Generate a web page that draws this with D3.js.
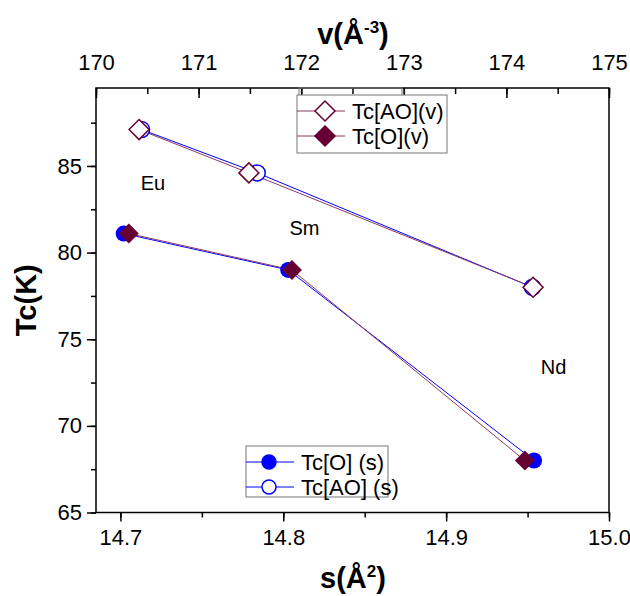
<!DOCTYPE html>
<html>
<head>
<meta charset="utf-8">
<script src="https://cdn.jsdelivr.net/npm/d3@7"></script>
<style>
  body { margin: 0; background: #fff; }
  svg { font-family: "Liberation Sans", Arial, sans-serif; }
</style>
</head>
<body>
<svg id="chart" width="630" height="596"></svg>
<script>
// Tc vs area s (bottom axis) and volume v (top axis)
var elements = ['Eu', 'Sm', 'Nd'];
var sO = [14.702, 14.803, 14.954];
var tcO_s = [81.1, 79.0, 68.0];
var sAO = [14.713, 14.784, 14.953];
var tcAO_s = [87.1, 84.6, 78.0];
var vAO = [170.42, 171.49, 174.26];
var tcAO_v = [87.1, 84.6, 78.0];
var vO = [170.32, 171.91, 174.18];
var tcO_v = [81.1, 79.0, 68.0];
// element label anchor points, in (s, Tc)
var labelS = [14.720, 14.813, 14.966];
var labelTc = [84.0, 81.4, 73.4];

var sTicks = [14.7, 14.8, 14.9, 15.0];
var vTicks = [170, 171, 172, 173, 174, 175];
var tcTicks = [65, 70, 75, 80, 85];

!(function() {
  var blue = '#0000ff', maroon = '#660033', maroonLine = '#8a3a62';

  var svg = d3.select('#chart');
  var pl = 96, pr = 609, pt = 88, pb = 512.5;

  var x = d3.scaleLinear().domain([14.685, 15.0]).range([pl, pr]);
  var xv = d3.scaleLinear().domain([170, 175]).range([pl, pr]);
  var y = d3.scaleLinear().domain([65, 89.5]).range([pb, pt]);

  function zip(a, b) { return a.map(function(d, i) { return [d, b[i]]; }); }

  // frame
  svg.append('rect')
    .attr('x', pl).attr('y', pt)
    .attr('width', pr - pl).attr('height', pb - pt)
    .attr('fill', 'none').attr('stroke', '#000').attr('stroke-width', 1.5);

  function styleAxis(g) {
    g.select('.domain').remove();
    g.attr('font-size', 22).attr('font-family', '"Liberation Sans", Arial, sans-serif');
    g.selectAll('line').attr('stroke', '#000').attr('stroke-width', 1.5);
    g.selectAll('text').attr('fill', '#000');
  }

  // bottom axis
  svg.append('g').attr('transform', 'translate(0,' + pb + ')')
    .call(d3.axisBottom(x).tickValues(d3.range(14.7, 15.01, 0.05)).tickSize(5).tickFormat(''))
    .call(styleAxis);
  svg.append('g').attr('transform', 'translate(0,' + pb + ')')
    .call(d3.axisBottom(x).tickValues(sTicks).tickSize(9).tickPadding(8).tickFormat(d3.format('.1f')))
    .call(styleAxis);

  // left axis
  svg.append('g').attr('transform', 'translate(' + pl + ',0)')
    .call(d3.axisLeft(y).tickValues(d3.range(65, 89, 2.5)).tickSize(5).tickFormat(''))
    .call(styleAxis);
  svg.append('g').attr('transform', 'translate(' + pl + ',0)')
    .call(d3.axisLeft(y).tickValues(tcTicks).tickSize(9).tickPadding(5))
    .call(styleAxis);

  // top axis, ticks pointing inward
  svg.append('g').attr('transform', 'translate(0,' + pt + ')')
    .call(d3.axisTop(xv).tickValues(d3.range(170, 175.01, 0.5)).tickSize(-6).tickFormat(''))
    .call(styleAxis);
  svg.append('g').attr('transform', 'translate(0,' + pt + ')')
    .call(d3.axisTop(xv).tickValues(vTicks).tickSize(-10).tickPadding(18).tickFormat(d3.format('d')))
    .call(styleAxis);

  // axis titles
  var tx = svg.append('text').attr('x', 353).attr('y', 44)
    .attr('text-anchor', 'middle').attr('font-size', 29).attr('font-weight', 'bold');
  tx.append('tspan').text('v(Å');
  tx.append('tspan').attr('font-size', 17).attr('dy', -11).text('-3');
  tx.append('tspan').attr('dy', 11).text(')');

  var bx = svg.append('text').attr('x', 353).attr('y', 588)
    .attr('text-anchor', 'middle').attr('font-size', 29).attr('font-weight', 'bold');
  bx.append('tspan').text('s(Å');
  bx.append('tspan').attr('font-size', 17).attr('dy', -11).text('2');
  bx.append('tspan').attr('dy', 11).text(')');

  svg.append('text')
    .attr('transform', 'translate(36,' + ((pt + pb) / 2) + ') rotate(-90)')
    .attr('text-anchor', 'middle').attr('font-size', 29).attr('font-weight', 'bold')
    .text('Tc(K)');

  // lines
  var lineS = d3.line().x(function(d) { return x(d[0]); }).y(function(d) { return y(d[1]); });
  var lineV = d3.line().x(function(d) { return xv(d[0]); }).y(function(d) { return y(d[1]); });

  svg.append('path').datum(zip(sO, tcO_s)).attr('d', lineS)
    .attr('fill', 'none').attr('stroke', blue).attr('stroke-width', 1);
  svg.append('path').datum(zip(sAO, tcAO_s)).attr('d', lineS)
    .attr('fill', 'none').attr('stroke', blue).attr('stroke-width', 1);
  svg.append('path').datum(zip(vAO, tcAO_v)).attr('d', lineV)
    .attr('fill', 'none').attr('stroke', maroonLine).attr('stroke-width', 1);
  svg.append('path').datum(zip(vO, tcO_v)).attr('d', lineV)
    .attr('fill', 'none').attr('stroke', maroonLine).attr('stroke-width', 1);

  var diamond = 'M0,-10L10,0L0,10L-10,0Z';

  // circles (s series)
  svg.append('g').selectAll('circle').data(zip(sO, tcO_s)).enter().append('circle')
    .attr('cx', function(d) { return x(d[0]); }).attr('cy', function(d) { return y(d[1]); })
    .attr('r', 8).attr('fill', blue);
  svg.append('g').selectAll('circle').data(zip(sAO, tcAO_s)).enter().append('circle')
    .attr('cx', function(d) { return x(d[0]); }).attr('cy', function(d) { return y(d[1]); })
    .attr('r', 8).attr('fill', '#fff').attr('stroke', blue).attr('stroke-width', 1.5);

  // diamonds (v series)
  svg.append('g').selectAll('path').data(zip(vAO, tcAO_v)).enter().append('path')
    .attr('transform', function(d) { return 'translate(' + xv(d[0]) + ',' + y(d[1]) + ')'; })
    .attr('d', diamond).attr('fill', '#fff').attr('stroke', maroon).attr('stroke-width', 1.5);
  svg.append('g').selectAll('path').data(zip(vO, tcO_v)).enter().append('path')
    .attr('transform', function(d) { return 'translate(' + xv(d[0]) + ',' + y(d[1]) + ')'; })
    .attr('d', diamond).attr('fill', maroon);

  // element labels
  svg.append('g').selectAll('text').data(elements).enter().append('text')
    .attr('x', function(d, i) { return x(labelS[i]); })
    .attr('y', function(d, i) { return y(labelTc[i]); })
    .attr('dy', '0.35em').attr('text-anchor', 'middle').attr('font-size', 20)
    .text(function(d) { return d; });

  // legends
  function legend(x0, y0, w, h, items) {
    var g = svg.append('g');
    g.append('rect').attr('x', x0).attr('y', y0).attr('width', w).attr('height', h)
      .attr('fill', '#fff').attr('stroke', '#777').attr('stroke-width', 1);
    items.forEach(function(it, i) {
      var cy = y0 + 16 + i * 25;
      g.append('line').attr('x1', x0).attr('x2', x0 + 48).attr('y1', cy).attr('y2', cy)
        .attr('stroke', it.line).attr('stroke-width', 1);
      if (it.shape === 'circle') {
        g.append('circle').attr('cx', x0 + 23).attr('cy', cy).attr('r', 7)
          .attr('fill', it.fill).attr('stroke', it.stroke).attr('stroke-width', 1.5);
      } else {
        g.append('path').attr('transform', 'translate(' + (x0 + 28) + ',' + cy + ')')
          .attr('d', diamond).attr('fill', it.fill).attr('stroke', it.stroke).attr('stroke-width', 1.5);
      }
      g.append('text').attr('x', x0 + 55).attr('y', cy).attr('dy', '0.35em')
        .attr('font-size', 22).text(it.label);
    });
  }

  // empty frame behind the top legend
  svg.append('rect').attr('x', 299).attr('y', pt).attr('width', 103).attr('height', 8)
    .attr('fill', 'none').attr('stroke', '#777').attr('stroke-width', 1);

  legend(297, 95, 150, 58, [
    { label: 'Tc[AO](v)', shape: 'diamond', fill: '#fff', stroke: maroon, line: maroonLine },
    { label: 'Tc[O](v)', shape: 'diamond', fill: maroon, stroke: maroon, line: maroonLine }
  ]);
  legend(246, 446, 142, 51, [
    { label: 'Tc[O] (s)', shape: 'circle', fill: blue, stroke: blue, line: blue },
    { label: 'Tc[AO] (s)', shape: 'circle', fill: '#fff', stroke: blue, line: blue }
  ]);
})();
</script>
</body>
</html>
